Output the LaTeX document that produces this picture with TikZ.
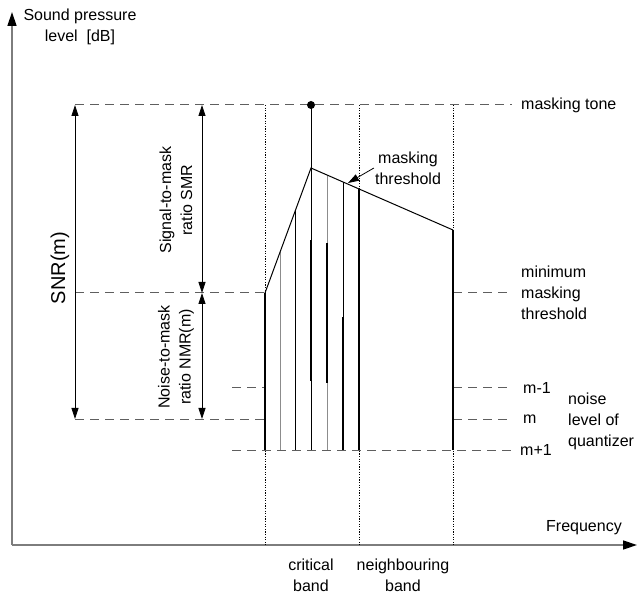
\documentclass[tikz,border=0pt]{standalone}
\usepackage{fontspec}
\setmainfont{Liberation Sans}
\usetikzlibrary{arrows.meta, positioning}
\definecolor{AxisGray}{RGB}{125,125,125}
\definecolor{GuideGray}{RGB}{95,95,95}
\definecolor{BarGray}{RGB}{140,140,140}

\tikzset{
  txt/.style={inner sep=1pt, font=\fontsize{16}{21}\selectfont},
  axis/.style={AxisGray, line width=1.4pt, -{Triangle[length=14pt, width=9pt, fill=black, color=black]}},
  guide/.style={GuideGray, line width=1pt, dash pattern=on 9pt off 6pt},
  bandline/.style={black, line width=0.8pt, dash pattern=on 1.3pt off 1.3pt},
  dimarrow/.style={black, line width=0.8pt, {Triangle[length=11pt, width=7pt]}-{Triangle[length=11pt, width=7pt]}},
  curve/.style={black, line width=1pt}
}

\begin{document}
\begin{tikzpicture}[x=1pt, y=-1pt]
    \useasboundingbox (0,0) rectangle (638,596);

    % Axes
    \coordinate (origin) at (12,545);
    \coordinate (ytop) at (12,12);
    \coordinate (xend) at (637,545);
    \draw[axis] (origin) -- (ytop);
    \draw[axis] (origin) -- (xend);
    \node[txt, align=center] (ylabel) at (80,27) {Sound pressure\\level~~[dB]};
    \node[txt] (xlabel) at (584,528) {Frequency};

    % Band limits
    \foreach \bx/\bn in {265/bl, 359/bm, 453/br} {
        \coordinate (\bn top) at (\bx,105);
        \coordinate (\bn bot) at (\bx,545);
        \draw[bandline] (\bn top) -- (\bn bot);
    }
    \node[txt, align=center] (critical) at (311,575) {critical\\band};
    \node[txt, align=center] (neighbour) at (403,575) {neighbouring\\band};

    % Level lines
    \draw[guide] (75,105) -- (512,105);
    \draw[guide] (75,293) -- (265,293);
    \draw[guide] (453,293) -- (512,293);
    \draw[guide] (232,388) -- (265,388);
    \draw[guide] (453,388) -- (512,388);
    \draw[guide] (75,419) -- (265,419);
    \draw[guide] (453,419) -- (512,419);
    \draw[guide] (232,450) -- (515,450);

    \node[txt, anchor=west] (tone) at (520,105) {masking tone};
    \node[txt, anchor=west, align=left] (minthr) at (520,293) {minimum\\masking\\threshold};
    \node[txt, anchor=west] (mminus) at (522,388) {m-1};
    \node[txt, anchor=west] (mlevel) at (522,419) {m};
    \node[txt, anchor=west] (mplus) at (519,450) {m+1};
    \node[txt, anchor=west, align=left] (noise) at (567,421) {noise\\level of\\quantizer};

    % Quantizer bars under the threshold
    \foreach \bx/\by/\bc/\bw in {280/252/BarGray/1pt, 295/211.5/black/0.8pt,
                                 311/168/black/0.8pt, 327/175/BarGray/1pt,
                                 343/182/black/0.8pt} {
        \draw[\bc, line width=\bw] (\bx,\by) -- (\bx,450);
    }
    \draw[black, line width=1.8pt] (311,240) -- (311,381);
    \draw[black, line width=1.8pt] (327,243) -- (327,383);
    \draw[black, line width=1.4pt] (343,317) -- (343,450);
    \draw[black, line width=1.6pt] (265,293) -- (265,450);
    \draw[black, line width=1.6pt] (359,189) -- (359,450);
    \draw[black, line width=1.8pt] (453,230) -- (453,450);

    % Masking tone and threshold
    \coordinate (tonept) at (311,105);
    \coordinate (peak) at (311,168);
    \coordinate (thrleft) at (265,293);
    \coordinate (thrright) at (453,230);
    \draw[black, line width=0.8pt] (tonept) -- (peak);
    \fill[black] (tonept) circle (4);
    \draw[curve] (thrleft) -- (peak) -- (thrright);
    \node[txt, align=center] (thrlabel) at (408,168) {masking\\threshold};
    \coordinate (thrtip) at (348,183);
    \draw[black, line width=0.8pt, -{Triangle[length=11pt, width=7pt]}] (thrlabel.west) -- (thrtip);

    % Ratios
    \coordinate (snrtop) at (75,105);
    \coordinate (snrbot) at (75,419);
    \coordinate (smrtop) at (202,105);
    \coordinate (smrbot) at (202,293);
    \coordinate (nmrbot) at (202,419);
    \draw[dimarrow] (snrtop) -- (snrbot);
    \draw[dimarrow] (smrtop) -- (smrbot);
    \draw[dimarrow] (smrbot) -- (nmrbot);
    \node[inner sep=1pt, font=\fontsize{20}{24}\selectfont, rotate=90] (snr) at (60,268) {SNR(m)};
    \node[txt, align=center, rotate=90] (smr) at (176,200) {Signal-to-mask\\ratio SMR};
    \node[txt, align=center, rotate=90] (nmr) at (176,357) {Noise-to-mask\\ratio NMR(m)};
\end{tikzpicture}
\end{document}
